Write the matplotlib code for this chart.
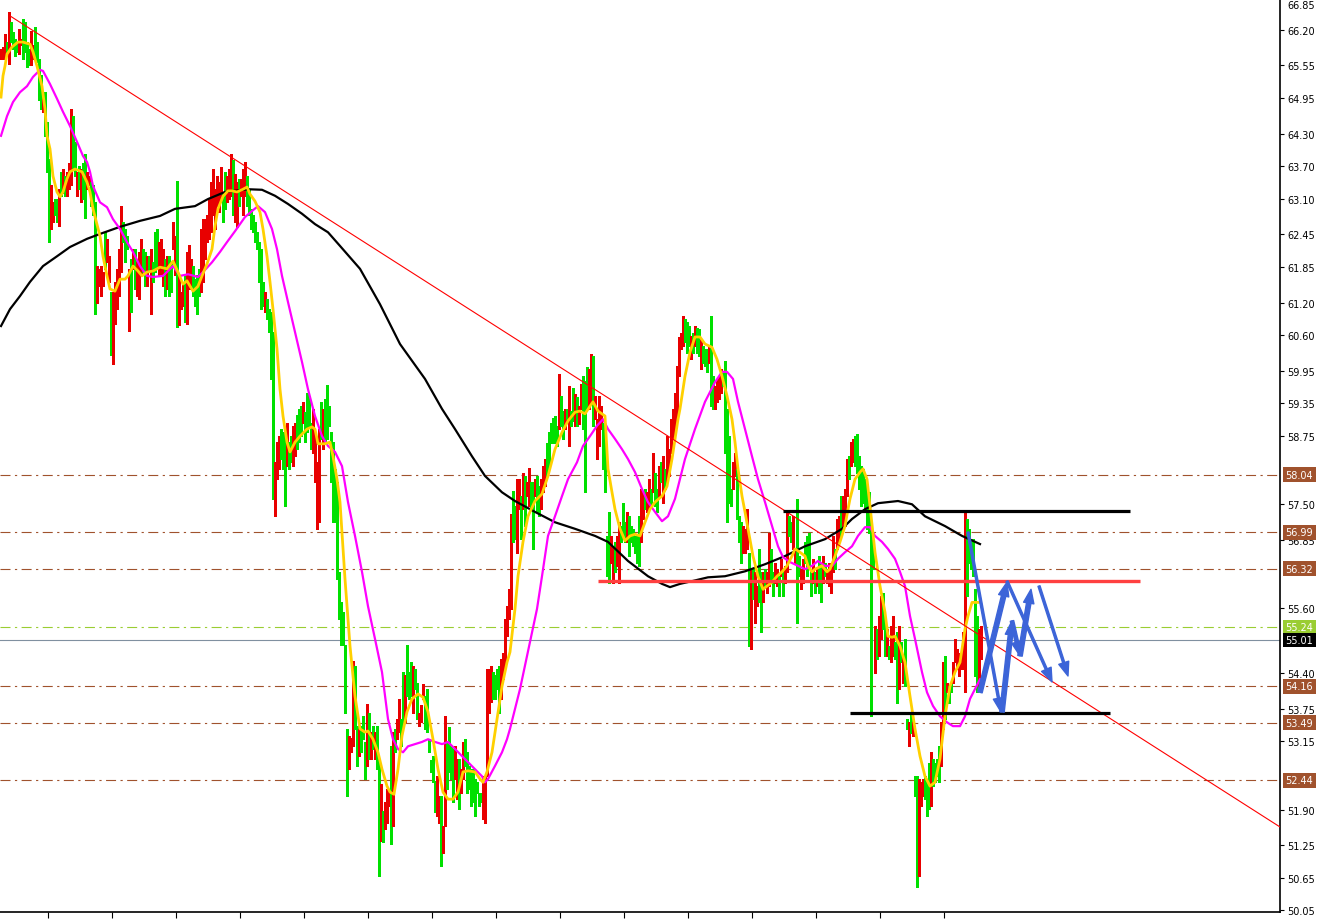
import matplotlib
matplotlib.use("Agg")
import matplotlib.pyplot as plt
import matplotlib.transforms as mtransforms

# bar highs / lows, one value per bar
highs = [
    65.86, 65.89, 66.13, 65.98, 66.53, 66.35, 66.16, 66.04, 65.98, 66.22,
    66.04, 66.41, 66.35, 65.98, 65.86, 66.19, 65.92, 66.25, 65.98, 65.67,
    65.37, 64.94, 65.06, 64.51, 63.84, 63.35, 63.04, 63.10, 63.10, 63.29,
    63.59, 63.65, 63.53, 63.59, 63.77, 64.75, 64.63, 64.14, 63.59, 63.71,
    63.65, 63.77, 63.93, 63.59, 63.53, 63.41, 63.35, 63.04, 61.88, 61.82,
    61.88, 61.76, 62.49, 62.37, 62.06, 61.39, 61.39, 61.57, 61.82, 62.18,
    62.98, 62.67, 62.55, 62.43, 61.82, 62.00, 62.18, 62.18, 61.94, 62.12,
    62.37, 62.18, 62.12, 62.06, 62.06, 62.18, 61.94, 62.49, 62.55, 62.31,
    62.37, 62.18, 62.00, 62.06,
    62.06, 61.94, 62.67, 62.43, 63.44, 61.70, 61.39, 61.57, 61.70, 62.12,
    62.25, 62.00, 61.88, 61.63, 61.70, 61.82, 62.55, 62.73, 62.73, 62.80,
    63.10, 63.41, 63.65, 63.29, 63.53, 63.41, 63.68, 63.22, 63.59, 63.53,
    63.65, 63.93, 63.81, 63.56, 63.41, 63.47, 63.47, 63.65, 63.78, 63.53,
    63.29, 62.92, 62.80, 62.67, 62.49, 62.31, 62.18, 61.57, 61.39, 61.27,
    61.08, 61.02, 60.66, 58.27, 58.64, 58.76, 58.88, 58.82, 58.76, 59.00,
    58.64, 58.76, 58.94, 59.00, 59.13, 59.25, 59.31, 59.37, 59.19, 59.55,
    59.49, 59.00, 59.25, 58.82, 58.27, 58.88, 59.37, 59.25, 59.43, 59.68,
    59.31, 58.82, 58.64, 58.15, 57.90,
    56.25, 55.70, 55.52, 54.91, 53.38, 53.25, 53.22, 54.63, 54.54, 53.44,
    53.38, 53.44, 53.62, 53.13, 53.84, 53.68, 53.32, 53.44, 53.32, 53.44,
    52.77, 52.37, 51.88, 52.03, 52.28, 52.21, 53.07, 53.32, 53.38, 53.56,
    53.93, 53.56, 54.42, 54.36, 54.91, 54.42, 54.60, 54.54, 54.48, 54.23,
    53.68, 53.81, 54.20, 53.99, 54.11, 53.19, 52.80, 52.89, 52.43, 52.52,
    52.15, 52.15, 51.60, 53.62, 53.13, 53.41, 53.07, 53.01, 53.07, 52.83,
    52.83, 52.64, 53.13, 53.19, 52.95, 52.70, 52.64, 52.64, 52.46, 52.40,
    52.21, 52.21, 52.52, 52.52, 54.48, 54.48, 54.54, 54.42, 54.36, 54.48,
    54.54, 54.66, 54.78, 55.40, 55.64,
    55.94, 57.32, 57.75, 57.47, 57.96, 57.96, 57.65, 58.08, 58.02, 57.90,
    58.17, 57.90, 57.90, 57.96, 58.02, 57.84, 57.96, 58.21, 58.33, 58.63,
    58.82, 59.00, 59.09, 59.12, 58.94, 59.89, 59.49, 59.21, 59.25, 59.25,
    59.67, 59.21, 59.64, 59.52, 59.46, 59.31, 59.70, 59.86, 59.77, 60.01,
    59.98, 60.25, 60.22, 59.49, 59.06, 59.49, 59.31, 59.00, 58.94, 56.92,
    57.35, 56.92, 56.74, 56.80, 56.92, 57.17, 57.10, 57.53, 57.17, 57.35,
    57.29, 57.10, 57.04, 56.92, 56.92, 57.29, 57.78, 57.72, 57.78, 57.72,
    57.96, 57.78, 58.45, 58.08, 57.78, 58.21, 58.27, 58.39, 58.14, 58.76,
    58.51, 59.06, 59.25, 59.55, 60.04,
    60.56, 60.65, 60.96, 60.90, 60.84, 60.77, 60.59, 60.65, 60.77, 60.74,
    60.71, 60.53, 60.41, 60.35, 60.35, 60.41, 60.96, 59.86, 59.67, 59.80,
    59.86, 59.98, 59.92, 60.13, 59.25, 58.76, 57.78, 58.27, 58.45, 58.14,
    57.29, 57.17, 57.10, 57.04, 57.41, 56.61, 56.31, 56.31, 56.25, 56.00,
    56.68, 56.25, 56.25, 56.31, 56.25, 56.98, 56.68, 56.25, 56.43, 56.31,
    56.19, 56.49, 56.31, 56.37, 57.35, 57.29, 57.17, 57.29, 56.68, 57.59,
    56.55, 56.31, 56.49, 56.80, 56.92, 56.98, 56.31, 56.49, 56.25, 56.31,
    56.55, 56.43, 56.55, 56.43, 56.25, 56.43, 56.43, 56.92, 56.68, 57.23,
    57.29, 57.65, 57.65, 57.78, 58.33,
    58.39, 58.64, 58.70, 58.76, 58.79, 58.39, 58.21, 58.15, 57.96, 57.78,
    57.72, 57.05, 56.86, 55.27, 55.21, 55.45, 55.82, 55.88, 55.39, 55.21,
    54.90, 55.27, 55.45, 54.97, 55.15, 55.27, 54.97, 54.72, 55.03, 53.56,
    53.50, 53.68, 53.50, 52.52, 52.52, 52.46, 52.40, 52.46, 52.52, 52.46,
    52.76, 52.95, 52.82, 52.76, 52.82, 53.07, 53.50, 54.60, 54.72, 54.23,
    54.17, 54.23, 54.60, 55.03, 54.84, 54.78, 54.72, 55.15, 57.35, 57.23,
    57.05, 56.86, 56.86, 55.94, 55.45, 55.21, 55.27,
]
lows = [
    65.67, 65.67, 65.67, 65.79, 65.58, 65.98, 65.86, 65.73, 65.79, 65.76,
    65.92, 65.67, 65.79, 65.52, 65.55, 65.55, 65.67, 65.73, 65.61, 64.91,
    64.75, 64.69, 64.26, 63.59, 62.31, 62.55, 62.67, 62.80, 62.67, 62.61,
    63.16, 63.22, 63.16, 63.16, 63.29, 63.35, 63.65, 63.53, 63.16, 63.29,
    63.04, 63.10, 62.76, 63.29, 63.35, 62.98, 62.80, 60.99, 61.20, 61.51,
    61.33, 61.51, 61.82, 61.94, 61.57, 60.23, 60.07, 60.81, 61.08, 61.33,
    61.76, 62.31, 61.94, 62.18, 60.68, 61.02, 61.82, 61.45, 61.33, 61.27,
    61.69, 61.76, 61.51, 61.51, 61.76, 60.99, 61.57, 61.76, 61.82, 61.69,
    61.69, 61.51, 61.33, 61.45,
    61.33, 61.39, 62.18, 61.70, 60.75, 60.78, 61.08, 61.14, 60.84, 60.81,
    61.45, 61.51, 61.33, 61.14, 60.99, 61.33, 61.39, 61.57, 62.00, 62.31,
    62.37, 62.49, 62.80, 62.55, 62.98, 62.86, 63.04, 62.67, 62.92, 63.04,
    63.10, 63.16, 62.80, 62.67, 62.58, 62.98, 63.16, 62.80, 63.16, 62.98,
    62.80, 62.55, 62.49, 62.31, 62.18, 61.57, 61.08, 61.14, 61.02, 60.90,
    60.66, 59.80, 57.60, 57.29, 57.96, 58.15, 58.33, 58.15, 57.47, 58.21,
    58.15, 58.27, 58.21, 58.39, 58.51, 58.64, 58.76, 59.00, 58.64, 58.82,
    58.94, 58.51, 58.45, 57.90, 57.05, 57.17, 58.70, 58.51, 58.64, 58.70,
    58.94, 57.90, 57.17, 57.17, 56.13,
    55.40, 54.91, 54.91, 53.68, 52.15, 52.64, 52.95, 53.07, 53.38, 52.70,
    52.89, 52.95, 53.19, 52.46, 52.70, 52.83, 52.83, 53.01, 52.83, 52.64,
    50.68, 51.33, 51.30, 51.54, 51.66, 51.97, 51.27, 51.60, 52.95, 53.19,
    53.32, 53.07, 53.50, 53.50, 53.99, 53.93, 53.99, 53.68, 54.11, 53.56,
    53.44, 53.50, 53.93, 53.38, 53.32, 52.95, 52.58, 52.40, 51.85, 51.79,
    51.66, 50.87, 51.11, 51.60, 52.28, 52.58, 52.46, 52.03, 52.46, 52.09,
    51.91, 52.21, 52.46, 52.70, 52.21, 52.28, 51.97, 52.03, 51.79, 52.21,
    51.97, 52.03, 51.73, 51.66, 52.52, 53.68, 53.87, 53.93, 53.93, 54.11,
    53.68, 53.93, 54.29, 54.54, 55.09,
    55.39, 55.57, 56.80, 56.86, 56.61, 57.41, 56.86, 57.41, 57.10, 57.65,
    57.47, 57.41, 56.68, 57.65, 57.35, 57.29, 57.41, 57.72, 57.84, 58.02,
    58.21, 58.63, 58.63, 58.63, 58.57, 58.88, 58.94, 58.69, 58.88, 59.06,
    58.57, 58.94, 59.03, 58.94, 58.94, 58.97, 59.25, 58.88, 57.72, 59.25,
    59.25, 59.37, 58.94, 59.06, 58.33, 58.57, 58.88, 58.14, 57.72, 56.19,
    56.06, 56.43, 56.06, 56.25, 56.37, 56.06, 56.80, 56.86, 56.80, 56.80,
    56.55, 56.80, 56.74, 56.61, 56.43, 56.37, 56.80, 57.23, 57.41, 57.35,
    57.41, 57.47, 57.72, 57.47, 57.35, 57.65, 57.90, 57.53, 57.78, 57.90,
    58.02, 58.45, 58.69, 58.88, 59.12,
    59.86, 60.35, 60.41, 60.47, 60.28, 60.41, 60.16, 60.28, 60.41, 60.28,
    60.22, 59.98, 60.10, 60.04, 59.92, 60.10, 59.31, 59.25, 59.25, 59.37,
    59.43, 59.55, 59.67, 58.45, 57.17, 57.53, 57.47, 57.78, 58.02, 57.23,
    56.80, 56.43, 56.61, 56.61, 56.68, 54.90, 54.84, 55.76, 55.33, 55.64,
    55.70, 55.15, 55.70, 56.00, 55.88, 56.00, 56.06, 55.82, 56.06, 56.00,
    55.82, 56.19, 55.82, 56.06, 56.25, 56.92, 56.80, 56.68, 56.43, 55.33,
    56.19, 55.94, 56.06, 56.43, 56.19, 56.31, 55.82, 56.06, 55.88, 56.00,
    55.88, 55.70, 56.06, 56.19, 56.06, 56.00, 55.88, 56.25, 56.31, 56.68,
    56.80, 56.92, 57.04, 57.10, 57.65,
    57.96, 58.21, 58.27, 58.21, 58.08, 57.78, 57.47, 57.53, 57.41, 57.05,
    56.98, 53.62, 56.31, 54.41, 54.66, 54.72, 55.03, 55.21, 54.72, 54.72,
    54.66, 54.60, 54.72, 54.66, 53.86, 54.11, 54.60, 54.23, 54.17, 53.37,
    53.07, 53.31, 53.25, 52.15, 50.47, 50.68, 51.97, 52.15, 52.09, 51.78,
    51.91, 51.97, 52.33, 52.40, 52.52, 52.40, 52.70, 53.37, 53.56, 54.05,
    53.86, 54.05, 54.23, 54.60, 54.48, 54.35, 54.48, 54.48, 54.05, 55.82,
    56.43, 56.31, 56.19, 54.35, 54.05, 54.11, 54.66,
]
# bar direction: g = up bar (green), r = down bar (red)
bar_dir = (
    "rrrgrggggr" "rggggrrggg" "grgggrrggr" "grgrrrggrg" "rggrrgggrr"
    "rrgrrgrrrr" "rgggrgrgrr" "rggrgrgggr" "rrgr"
    "ggrrgr" "rrgrrrgggg" "rrrrrrrrrr" "rggrrrgrrg" "rrrggggggg"
    "ggrggggrrr" "gggrggrrgg" "grggggrrrr" "grggggggg"
    "g" "ggggrrrggr" "gggrgrgrgg" "rgrrrgrgrr" "ggrgggrggr"
    "rrggggggrr" "grrggggrrg" "rrgggggggg" "grrrrrgggg" "rrrr"
    "rrggrr" "grgrrggrgg" "rrrggggggr" "ggrgrggrgr" "rgggrrgrrr"
    "rggggrrgrr" "gggrgggggg" "rrgrrgrggr" "grgrrrrrr"
    "r" "rrgggrgrgg" "rgggrggrrr" "rgggggrrgg" "grrrgrgrrg"
    "grgrrggrrg" "rgrrggrrgg" "rrggggrgrg" "grgrrrrgrr" "grrr"
    "grrggg" "gggggggrgr" "rggrgrrggr" "grggrgrggr" "rrgggrgggg"
    "rrgrggrrrr" "rrrggggggrr"
)

# moving averages: (bar index, price)
ma_fast = [
    (0, 64.97), (1, 65.36), (2, 65.54), (3, 65.76), (5.5, 65.89), (8.5, 65.98), (11, 65.98),
    (14.5, 65.94), (16, 65.80), (18, 65.54), (20.5, 65.17), (22, 64.75), (23, 64.26),
    (24.5, 64.02), (26, 63.52), (28, 63.23), (29.5, 63.14), (31, 63.23), (33, 63.47),
    (34.5, 63.60), (37, 63.65), (40.5, 63.60), (43, 63.41), (44.5, 63.23), (46, 62.92),
    (49.5, 62.42), (51, 62.05), (53, 61.69), (54.5, 61.45), (57, 61.41), (59.5, 61.63),
    (62, 61.63), (63.5, 61.69), (66, 61.87), (68.5, 61.78), (70.5, 61.69), (73, 61.76),
    (76, 61.78), (79.5, 61.85), (83, 61.82), (86, 61.96), (88.5, 61.76), (91, 61.54),
    (93, 61.60), (96, 61.41), (98.5, 61.50), (100.5, 61.69), (103, 61.91), (105.5, 62.18),
    (107, 62.60), (108.5, 62.92), (111, 63.15), (113.5, 63.25), (115.5, 63.25), (118, 63.23),
    (121, 63.28), (123, 63.32), (124.5, 63.19), (127, 63.06), (129.5, 62.86), (131, 62.55),
    (133, 62.05), (134.5, 61.58), (136, 61.08), (138, 60.35), (139.5, 59.61), (141, 59.12),
    (143, 58.64), (144.5, 58.46), (147, 58.64), (149.5, 58.75), (153, 58.88), (155.5, 58.92),
    (157, 58.88), (158.5, 58.61), (162, 58.61), (164.5, 58.64), (166, 58.38), (168, 57.96),
    (169.5, 57.54), (172, 56.13), (174.5, 54.90), (177, 53.98), (179.5, 53.38), (182, 53.32),
    (183.5, 53.34), (186, 53.19), (188.5, 52.95), (190.5, 52.64), (193, 52.33), (194.5, 52.22),
    (196.5, 52.18), (198.5, 52.64), (200.5, 53.25), (203, 53.69), (205.5, 53.93), (208.5, 54.02),
    (211, 53.96), (213.5, 53.69), (216, 53.19), (218.5, 52.64), (221, 52.22), (223.5, 52.09),
    (226, 52.09), (228.5, 52.22), (231, 52.59), (233.5, 52.61), (237, 52.59), (239.5, 52.46),
    (241, 52.40), (243, 52.59), (245.5, 52.95), (248, 53.56), (250.5, 54.16), (253, 54.60),
    (254.5, 54.79), (257, 55.58), (258.5, 56.18), (261, 56.81), (263.5, 57.28), (267, 57.56),
    (270.5, 57.69), (273.5, 58.02), (277, 58.51), (280.5, 58.82), (283.5, 59.03), (287, 59.19),
    (289.5, 59.21), (292, 59.16), (294.5, 59.30), (296, 59.38), (298.5, 59.21), (302, 59.12),
    (303.5, 58.15), (305.5, 57.72), (307, 57.41), (309.5, 57.05), (312, 56.83), (314.5, 56.92),
    (317, 56.95), (319.5, 56.92), (322, 57.17), (324.5, 57.41), (327, 57.54), (330.5, 57.65),
    (333, 57.83), (335.5, 58.33), (337, 58.70), (338.5, 59.06), (339.5, 59.25), (342, 59.85),
    (344.5, 60.29), (347, 60.57), (349.5, 60.57), (352, 60.44), (355.5, 60.38), (358, 60.16),
    (360.5, 59.85), (363, 59.49), (365.5, 59.06), (367, 58.64), (368.5, 58.15), (370.5, 57.65),
    (372, 57.36), (373.5, 57.05), (376, 56.55), (378.5, 56.18), (381, 55.94), (383, 56.00),
    (385.5, 56.07), (388, 56.18), (390.5, 56.26), (393, 56.37), (395.5, 56.55), (397, 56.68),
    (399.5, 56.62), (402, 56.55), (403.5, 56.37), (405.5, 56.26), (407, 56.31), (410.5, 56.37),
    (413, 56.26), (414.5, 56.31), (417, 56.55), (419.5, 56.81), (422, 57.10), (423.5, 57.41),
    (424.5, 57.60), (427, 57.96), (429.5, 58.09), (431, 58.15), (433, 57.96), (434.5, 57.47),
    (437, 56.62), (439.5, 56.00), (442, 55.52), (443.5, 55.08), (445.5, 55.06), (447, 55.08),
    (449.5, 54.90), (452, 54.60), (454.5, 53.98), (457, 53.38), (459.5, 52.88), (462, 52.51),
    (464.5, 52.33), (467, 52.40), (469.5, 52.83), (472, 53.61), (474.5, 54.16), (477, 54.42),
    (479.5, 54.60), (482, 55.21), (483.5, 55.45), (485.5, 55.70), (488, 55.70), (489, 55.70),
]
ma_mid = [
    (0, 64.26), (3, 64.62), (6, 64.88), (9.5, 65.06), (13, 65.17), (16, 65.34), (19.5, 65.47),
    (21, 65.45), (24.5, 65.21), (28, 64.94), (31, 64.70), (34.5, 64.44), (38, 64.15),
    (41, 63.89), (43, 63.78), (44.5, 63.60), (46, 63.34), (49.5, 63.04), (53, 62.95),
    (56, 62.73), (59.5, 62.55), (63, 62.31), (66, 62.13), (69.5, 61.87), (73, 61.69),
    (76, 61.67), (81, 61.69), (86, 61.87), (89.5, 61.69), (93.5, 61.72), (98.5, 61.67),
    (101, 61.76), (105.5, 61.94), (109.5, 62.13), (113, 62.31), (117, 62.51), (122, 62.77),
    (125.5, 62.88), (128.5, 62.97), (132, 62.86), (135.5, 62.55), (138, 62.18), (140.5, 61.69),
    (143.5, 61.21), (147, 60.66), (150.5, 60.11), (153.5, 59.61), (157, 59.12), (160.5, 58.75),
    (163.5, 58.57), (167, 58.46), (170.5, 58.20), (173.5, 57.54), (177, 56.92), (180.5, 56.26),
    (183.5, 55.63), (187, 55.03), (190.5, 54.42), (193.5, 53.56), (196, 53.19), (198.5, 53.01),
    (201, 52.95), (203.5, 53.06), (207, 53.10), (210.5, 53.14), (213.5, 53.19), (217, 53.14),
    (220.5, 53.10), (223.5, 53.14), (227, 53.01), (230.5, 52.88), (233.5, 52.77), (237, 52.64),
    (240.5, 52.51), (242, 52.40), (243.5, 52.46), (247, 52.70), (250.5, 52.95), (253, 53.19),
    (254.5, 53.38), (259.5, 54.11), (268, 55.58), (270.5, 56.18), (273.5, 56.92), (277, 57.28),
    (280.5, 57.65), (283.5, 57.96), (288, 58.27), (291, 58.57), (294.5, 58.75), (298, 58.94),
    (301, 59.06), (303.5, 58.88), (307, 58.70), (310.5, 58.51), (313.5, 58.33), (317, 58.09),
    (320.5, 57.78), (323.5, 57.54), (327, 57.36), (330.5, 57.19), (333.5, 57.28), (337, 57.60),
    (342, 58.33), (347, 58.88), (352, 59.38), (357, 59.74), (360.5, 59.93), (363, 59.93),
    (366, 59.80), (368.5, 59.38), (372, 58.88), (375.5, 58.38), (378.5, 57.96), (382, 57.54),
    (385.5, 57.10), (388.5, 56.73), (391, 56.53), (394.5, 56.44), (398.5, 56.37), (402, 56.31),
    (405.5, 56.37), (408.5, 56.46), (412, 56.37), (415.5, 56.37), (418.5, 56.50), (422, 56.62),
    (425.5, 56.73), (428.5, 56.92), (432, 57.08), (434.5, 57.08), (437, 56.92), (440.5, 56.81),
    (443.5, 56.68), (447, 56.50), (449.5, 56.26), (452, 56.00), (454.5, 55.45), (457, 55.03),
    (460.5, 54.42), (463, 54.05), (466, 53.80), (469.5, 53.61), (473, 53.50), (476, 53.43),
    (479.5, 53.43), (482, 53.61), (484.5, 53.93), (487, 54.11), (489.5, 54.29),
]
ma_slow = [
    (0, 60.77), (4.5, 61.08), (9.5, 61.32), (14.5, 61.58), (21, 61.87), (28, 62.05),
    (34.5, 62.22), (43, 62.37), (49.5, 62.46), (59.5, 62.59), (69.5, 62.70), (79.5, 62.79),
    (87, 62.92), (97, 62.97), (103.5, 63.10), (112, 63.23), (123.5, 63.28), (130.5, 63.27),
    (137, 63.16), (143.5, 63.01), (150.5, 62.83), (157, 62.64), (163.5, 62.49), (169.5, 62.24),
    (179.5, 61.82), (189.5, 61.17), (199.5, 60.44), (212, 59.80), (220.5, 59.25), (227, 58.88),
    (235.5, 58.38), (242, 58.02), (250.5, 57.72), (257, 57.56), (267, 57.36), (277, 57.17),
    (287, 57.05), (297, 56.92), (303.5, 56.81), (313.5, 56.46), (323.5, 56.18), (330.5, 56.04),
    (334.5, 55.98), (339.5, 56.04), (345.5, 56.09), (353.5, 56.16), (362, 56.18), (372, 56.27),
    (382, 56.40), (392, 56.55), (402, 56.73), (412, 56.86), (420.5, 57.05), (425.5, 57.23),
    (432, 57.41), (438.5, 57.52), (448.5, 57.56), (455.5, 57.50), (462, 57.28), (472, 57.10),
    (480.5, 56.92), (489.5, 56.77),
]

# horizontal price levels
levels = [58.04, 56.99, 56.32, 54.16, 53.49, 52.44]
ask_level = 55.24
bid_level = 55.01

# right axis tick labels (the ones hidden behind level boxes are left out)
ytick_vals = [66.20, 65.55, 64.95, 64.30, 63.70, 63.10, 62.45, 61.85, 61.20, 60.60,
              59.95, 59.35, 58.75, 57.50, 56.85, 55.60, 54.40, 53.75, 53.15,
              51.90, 51.25, 50.65, 50.05]
top_label = "66.85"

# hand drawn objects: trend line, horizontal segments, arrows (bar index, price)
trend = [(4.5, 66.46), (639.5, 51.58)]
top_box = (391, 564.5, 57.38)
bottom_box = (424.5, 554.5, 53.67)
neckline = (298.5, 569.5, 56.09)
arrows = [
    (483.5, 56.99, 500.0, 53.69, 0.15),
    (489.5, 54.05, 503.0, 56.07, 0.32),
    (503.0, 56.09, 525.5, 54.24, 0.15),
    (500.5, 53.69, 505.5, 55.36, 0.32),
    (505.5, 55.36, 509.5, 54.72, 0.25),
    (509.5, 54.72, 515.0, 55.94, 0.32),
    (519.0, 56.00, 533.5, 54.35, 0.15),
]

GREEN = "#00e000"
RED = "#e80000"
BROWN = "#a0522d"
BLUE = "#3c64d8"

fig = plt.figure(figsize=(13.2, 9.2), dpi=100)
ax = fig.add_axes([0, 7 / 920, 1280 / 1320, 913 / 920])
ax.set_xlim(-0.5, 639.5)
ax.set_ylim(50.02, 66.77)

# price levels
for lv in levels:
    ax.axhline(lv, color=BROWN, lw=0.8, ls=(0, (9, 4, 2, 4)), zorder=1)
ax.axhline(ask_level, color="#9acd32", lw=0.8, ls=(0, (9, 4, 2, 4)), zorder=1)
ax.axhline(bid_level, color="#8090a0", lw=0.8, zorder=1)

# bars
n = min(len(highs), len(lows), len(bar_dir))
cols = [GREEN if bar_dir[k] == "g" else RED for k in range(n)]
ax.vlines(range(n), lows[:n], highs[:n], colors=cols, lw=0.75,
          antialiased=False, zorder=2)

# moving averages
for ma, c, w in [(ma_slow, "black", 1.6), (ma_mid, "#ff00ff", 1.6), (ma_fast, "#ffd000", 2.0)]:
    ax.plot([p[0] for p in ma], [p[1] for p in ma], color=c, lw=w, zorder=3)

# trend line and horizontal segments
ax.plot([trend[0][0], trend[1][0]], [trend[0][1], trend[1][1]], color="#ff0000", lw=0.8, zorder=3.5)
for x0, x1, y in [top_box, bottom_box]:
    ax.plot([x0, x1], [y, y], color="black", lw=2.3, zorder=4, solid_capstyle="butt")
ax.plot([neckline[0], neckline[1]], [neckline[2], neckline[2]], color="#ff4040",
        lw=2.4, zorder=4, solid_capstyle="butt")

# blue arrows
for x0, y0, x1, y1, w in arrows:
    ax.annotate("", xy=(x1, y1), xytext=(x0, y0),
                arrowprops=dict(arrowstyle="simple,head_length=1.0,head_width=0.75,tail_width=%s" % w,
                                color=BLUE, shrinkA=0, shrinkB=0), zorder=5)

# axes styling
for s in ["left", "top"]:
    ax.spines[s].set_visible(False)
ax.spines["right"].set_linewidth(1.2)
ax.spines["bottom"].set_linewidth(1.2)
ax.yaxis.tick_right()
ax.set_yticks(ytick_vals)
ax.set_yticklabels(["%.2f" % v for v in ytick_vals])
ax.tick_params(axis="y", direction="out", length=3, width=0.8, labelsize=7, pad=2.5)
ax.set_xticks([23.5 + 32 * k for k in range(15)])
ax.set_xticklabels([])
ax.tick_params(axis="x", direction="out", length=4, width=0.8)

trans = mtransforms.blended_transform_factory(ax.transAxes, ax.transData)
ax.text(1.0055, 0.999, top_label, transform=ax.transAxes, fontsize=7, va="top", ha="left",
        clip_on=False)
for lv in levels:
    ax.text(1.0043, lv, "%.2f" % lv, transform=trans, fontsize=7, color="white", va="center",
            ha="left", clip_on=False, zorder=10,
            bbox=dict(boxstyle="square,pad=0.25", fc=BROWN, ec="none"))
ax.text(1.0043, ask_level, "%.2f" % ask_level, transform=trans, fontsize=7, color="white",
        va="center", ha="left", clip_on=False, zorder=10,
        bbox=dict(boxstyle="square,pad=0.25", fc="#9acd32", ec="none"))
ax.text(1.0043, bid_level, "%.2f" % bid_level, transform=trans, fontsize=7, color="white",
        va="center", ha="left", clip_on=False, zorder=10,
        bbox=dict(boxstyle="square,pad=0.25", fc="black", ec="none"))

fig.savefig("out.png", dpi=100, facecolor="white")
